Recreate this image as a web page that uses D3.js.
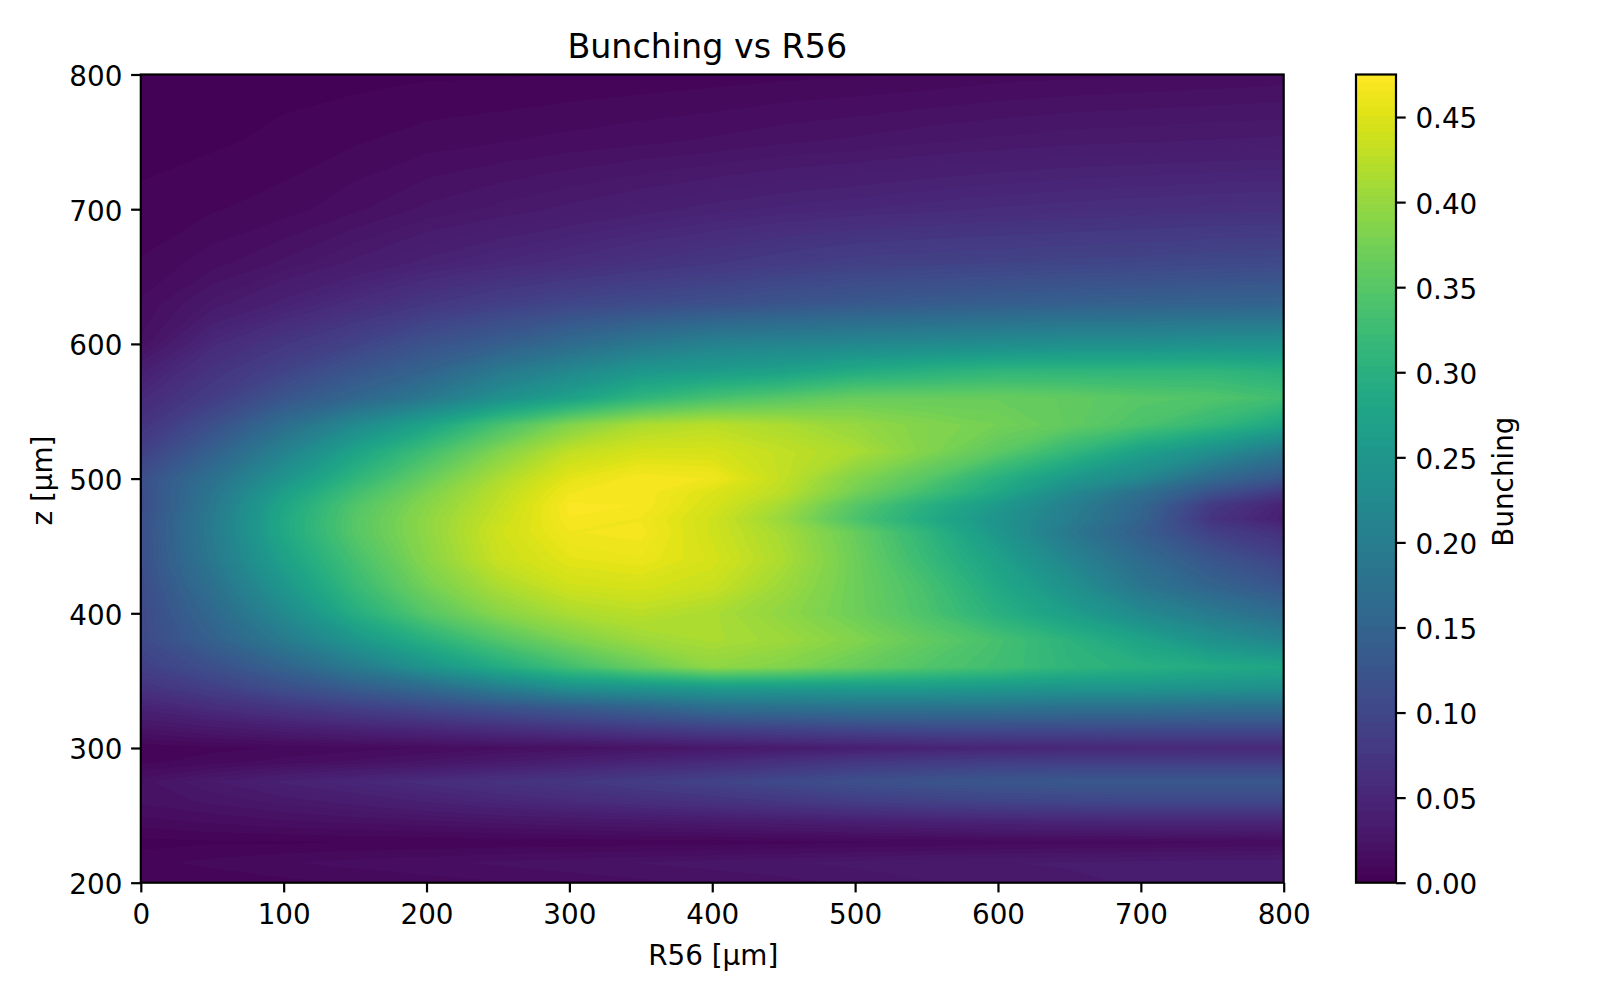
<!DOCTYPE html>
<html><head><meta charset="utf-8">
<script src="https://cdn.jsdelivr.net/npm/d3@7"></script>
<style>
html,body{margin:0;padding:0;background:#fff;}
svg{display:block;}
text{font-family:"DejaVu Sans",sans-serif;fill:#000;}
</style></head><body>
<svg id="c" width="1600" height="1000"></svg>
<script>
const chartTitle = "Bunching vs R56";
const xLabel = "R56 [µm]";
const yLabel = "z [µm]";
const cbLabel = "Bunching";
const xTicks = [0,100,200,300,400,500,600,700,800];
const yTicks = [200,300,400,500,600,700,800];
const cbTicks = [0,0.05,0.10,0.15,0.20,0.25,0.30,0.35,0.40,0.45];
const vMax = 0.475;
const levelCount = 100;
const r56Values = [0,50,100,150,200,250,300,350,400,450,500,550,600,650,700,750,800];
const zValues = [200,215,230,245,260,275,290,300,315,330,345,360,380,400,420,440,460,470,480,490,500,520,540,560,580,600,630,660,700,750,800];
const bunching = [
[.005,.006,.008,.01,.012,.014,.016,.018,.02,.022,.025,.028,.03,.032,.034,.036,.037],
[.008,.011,.014,.016,.018,.02,.022,.024,.026,.028,.03,.032,.033,.034,.035,.036,.037],
[.003,.004,.004,.005,.005,.006,.006,.007,.007,.008,.009,.01,.012,.013,.013,.014,.015],
[.012,.015,.018,.02,.022,.025,.028,.03,.033,.036,.04,.043,.046,.048,.05,.05,.05],
[.02,.025,.03,.036,.043,.05,.056,.062,.068,.076,.085,.09,.095,.098,.10,.10,.10],
[.022,.033,.044,.052,.06,.068,.075,.085,.095,.105,.115,.122,.127,.13,.13,.13,.13],
[.008,.012,.016,.02,.025,.032,.04,.048,.055,.065,.075,.08,.085,.085,.085,.085,.085],
[.006,.008,.01,.012,.015,.018,.02,.025,.03,.035,.04,.045,.05,.052,.054,.055,.055],
[.025,.032,.04,.048,.055,.065,.075,.085,.095,.10,.105,.11,.11,.11,.11,.11,.11],
[.045,.06,.075,.09,.105,.12,.135,.15,.17,.175,.18,.18,.18,.175,.175,.17,.17],
[.07,.09,.115,.14,.165,.205,.24,.25,.26,.26,.26,.26,.255,.25,.25,.245,.24],
[.09,.115,.15,.195,.245,.29,.33,.365,.395,.385,.365,.345,.33,.31,.30,.29,.28],
[.105,.145,.195,.25,.30,.345,.38,.405,.415,.405,.385,.36,.335,.305,.275,.24,.215],
[.105,.16,.225,.295,.35,.39,.415,.425,.415,.395,.37,.34,.30,.265,.225,.195,.165],
[.11,.175,.25,.32,.375,.415,.44,.445,.435,.405,.37,.335,.285,.24,.185,.15,.125],
[.115,.19,.27,.335,.39,.435,.455,.46,.445,.415,.37,.32,.27,.215,.165,.125,.095],
[.115,.195,.285,.35,.395,.44,.465,.468,.44,.41,.365,.31,.25,.19,.14,.09,.065],
[.115,.195,.285,.35,.395,.435,.47,.465,.44,.40,.34,.29,.245,.20,.15,.07,.04],
[.11,.19,.28,.345,.39,.43,.472,.47,.445,.41,.35,.30,.255,.205,.155,.08,.045],
[.112,.185,.265,.33,.38,.425,.465,.47,.45,.425,.375,.33,.285,.225,.175,.12,.08],
[.115,.175,.245,.31,.365,.415,.455,.47,.465,.43,.385,.35,.30,.255,.22,.16,.125],
[.09,.145,.21,.275,.33,.385,.43,.445,.445,.43,.415,.385,.355,.315,.27,.235,.19],
[.07,.115,.17,.225,.275,.335,.385,.415,.425,.415,.40,.385,.375,.36,.34,.315,.28],
[.055,.085,.125,.155,.19,.235,.27,.31,.335,.35,.365,.365,.365,.36,.35,.345,.33],
[.04,.07,.095,.125,.15,.19,.22,.25,.26,.27,.29,.30,.31,.31,.31,.31,.30],
[.02,.055,.075,.095,.12,.14,.165,.19,.21,.215,.22,.225,.23,.235,.235,.24,.24],
[.015,.03,.045,.06,.075,.088,.10,.108,.115,.123,.13,.135,.14,.143,.145,.148,.15],
[.01,.017,.025,.035,.045,.053,.06,.068,.075,.083,.09,.093,.095,.098,.10,.103,.105],
[.006,.009,.012,.018,.025,.03,.035,.04,.045,.049,.052,.055,.058,.06,.062,.064,.065],
[.003,.004,.006,.009,.012,.014,.016,.018,.02,.023,.025,.028,.03,.032,.033,.034,.035],
[.002,.002,.003,.003,.004,.004,.005,.006,.007,.008,.009,.01,.012,.013,.014,.015,.016]
];

const plot = {left:140.8, right:1283.7, top:74.5, bottom:882.7};
const cbar = {left:1356, right:1396, top:74.5, bottom:882.7};
const lw = 2.2, tickLen = 9.7, tickPad = 9.7, fs = 27.8;

const svg = d3.select("#c");
const x = d3.scaleLinear().domain([0,800]).range([plot.left,plot.right]);
const y = d3.scaleLinear().domain([200,800]).range([plot.bottom,plot.top]);
const cy = d3.scaleLinear().domain([0,vMax]).range([cbar.bottom,cbar.top]);
const colorOf = v => d3.interpolateViridis(v/vMax);
const levels = d3.range(levelCount+1).map(i => vMax*i/levelCount);

// contour field (grid indices map to data through piecewise scales)
const nx = r56Values.length, ny = zValues.length;
const flat = bunching.flat();
const ix = d3.scaleLinear().domain(d3.range(nx)).range(r56Values).clamp(true);
const iz = d3.scaleLinear().domain(d3.range(ny)).range(zValues).clamp(true);
const toPx = ([a,b]) => [x(ix(a-0.5)), y(iz(b-0.5))];
const contours = d3.contours().size([nx,ny]).smooth(true).thresholds(levels.slice(0,-1));
const polys = contours(flat);
const g = svg.append("g");
g.selectAll("path").data(polys).join("path")
  .attr("d", d => {
    let s = "";
    d.coordinates.forEach(poly => poly.forEach(ring => {
      s += "M" + ring.map(p => toPx(p).map(v=>v.toFixed(2)).join(",")).join("L") + "Z";
    }));
    return s;
  })
  .attr("fill-rule","evenodd")
  .attr("fill", d => colorOf(d.value + vMax/levelCount/2));

// frame + axes
function styleAxis(sel){
  sel.selectAll(".domain").remove();
  sel.selectAll(".tick line").attr("stroke","#000").attr("stroke-width",lw);
  sel.selectAll(".tick text").attr("font-size",fs).attr("fill","#000");
}
svg.append("rect").attr("x",plot.left).attr("y",plot.top)
  .attr("width",plot.right-plot.left).attr("height",plot.bottom-plot.top)
  .attr("fill","none").attr("stroke","#000").attr("stroke-width",lw);
const shiftText = (sel,dx,dy) => sel.selectAll(".tick text").attr("transform",`translate(${dx},${dy})`);
svg.append("g").attr("transform",`translate(0,${plot.bottom})`)
  .call(d3.axisBottom(x).tickValues(xTicks).tickFormat(d3.format("d")).tickSize(tickLen).tickPadding(tickPad)).call(styleAxis).call(shiftText,0,2.5);
svg.append("g").attr("transform",`translate(${plot.left},0)`)
  .call(d3.axisLeft(y).tickValues(yTicks).tickFormat(d3.format("d")).tickSize(tickLen).tickPadding(tickPad)).call(styleAxis).call(shiftText,1,2);
svg.append("text").attr("x",(plot.left+plot.right)/2-5).attr("y",57.5).attr("text-anchor","middle").attr("font-size",33.3).text(chartTitle);
svg.append("text").attr("x",(plot.left+plot.right)/2+1).attr("y",965).attr("text-anchor","middle").attr("font-size",fs).text(xLabel);
svg.append("text").attr("transform",`translate(52,${(plot.top+plot.bottom)/2+2}) rotate(-90)`).attr("text-anchor","middle").attr("font-size",fs).text(yLabel);

// colour bar
svg.append("g").attr("shape-rendering","crispEdges").selectAll("rect").data(levels.slice(0,-1)).join("rect")
  .attr("x",cbar.left).attr("width",cbar.right-cbar.left)
  .attr("y",d => cy(d+vMax/levelCount))
  .attr("height",d => cy(d)-cy(d+vMax/levelCount)+0.6)
  .attr("fill",d => colorOf(d+vMax/levelCount/2));
svg.append("rect").attr("x",cbar.left).attr("y",cbar.top)
  .attr("width",cbar.right-cbar.left).attr("height",cbar.bottom-cbar.top)
  .attr("fill","none").attr("stroke","#000").attr("stroke-width",lw);
svg.append("g").attr("transform",`translate(${cbar.right},0)`)
  .call(d3.axisRight(cy).tickValues(cbTicks).tickFormat(d3.format(".2f")).tickSize(tickLen).tickPadding(tickPad)).call(styleAxis).call(shiftText,0,2);
svg.append("text").attr("transform",`translate(1513,${(cbar.top+cbar.bottom)/2+3}) rotate(-90)`).attr("text-anchor","middle").attr("font-size",fs).text(cbLabel);
</script>
</body></html>
